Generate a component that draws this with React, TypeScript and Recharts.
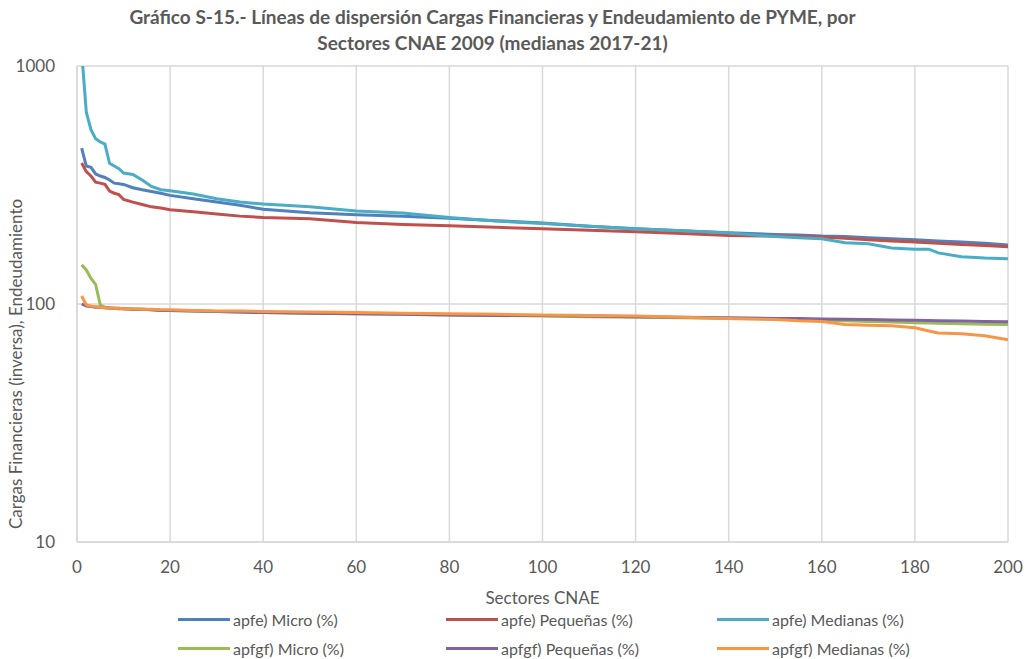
import { LineChart, Line, XAxis, YAxis, CartesianGrid, Legend } from 'recharts';

const sectors = [1, 2, 3, 4, 5, 6, 7, 8, 9, 10, 12, 14, 16, 18, 20, 25, 30, 35, 40, 50, 60, 70, 80, 90, 100, 110, 120, 130, 140, 150, 155, 160, 165, 170, 175, 180, 183, 185, 190, 195, 200];

const apfeMicro = [452, 380, 375, 352, 345, 340, 332, 322, 320, 318, 308, 302, 297, 292, 286, 277, 268, 260, 250, 242, 237, 234, 229, 224, 219, 212, 207, 203, 199, 196, 195, 193, 192, 190, 188, 186, 185, 184, 182, 180, 177];
const apfePeq = [391, 360, 345, 325, 322, 318, 298, 292, 288, 275, 268, 262, 256, 253, 249, 244, 239, 234, 231, 228, 220, 216, 213, 210, 207, 204, 201, 198, 194, 193, 192, 191, 189, 186, 184, 182, 181, 180, 178, 176, 174];
const apfeMed = [1150, 640, 540, 495, 480, 470, 390, 380, 370, 355, 350, 332, 312, 302, 299, 290, 277, 268, 263, 256, 246, 241, 231, 223, 218, 212, 207, 203, 199, 192, 190, 188, 181, 179, 172, 170, 170, 164, 158, 156, 155];
const apfgfMicro = [146, 139, 128, 121, 99, 97, 96.5, 96, 96, 95.5, 95, 95, 94.5, 94, 94, 93.5, 93, 92.5, 92, 91.5, 91, 90.5, 90, 89.5, 89, 88.5, 88, 87.5, 87, 86.5, 86, 85.5, 85, 84.5, 84, 83.5, 83.3, 83, 82.7, 82.3, 82];
const apfgfPeq = [100, 98, 97.5, 97, 97, 96.5, 96, 96, 95.5, 95.5, 95, 95, 94.5, 94, 94, 93.5, 93, 92.5, 92, 91.5, 91, 90.5, 90, 89.5, 89.5, 89, 88.5, 88, 87.5, 87, 87, 86.5, 86.2, 86, 85.7, 85.5, 85.2, 85, 84.8, 84.5, 84.2];
const apfgfMed = [108, 99, 98, 97.5, 97, 96.5, 96, 96, 96, 95.5, 95.5, 95, 95, 94.5, 94.5, 94, 93.5, 93.5, 93, 92.5, 92, 91.5, 91, 90.5, 90, 89.5, 89, 88, 87, 86, 85, 84.5, 82, 81.5, 81, 79.5, 77, 75.5, 75, 73.5, 70.7];

const xTicks = [0, 20, 40, 60, 80, 100, 120, 140, 160, 180, 200];
const yTicks = [10, 100, 1000];

const series = [
  { key: 'apfeMicro', name: 'apfe) Micro (%)', color: '#4F81BD', values: apfeMicro },
  { key: 'apfePeq', name: 'apfe) Pequeñas (%)', color: '#C0504D', values: apfePeq },
  { key: 'apfeMed', name: 'apfe) Medianas (%)', color: '#4BACC6', values: apfeMed },
  { key: 'apfgfMicro', name: 'apfgf) Micro (%)', color: '#9BBB59', values: apfgfMicro },
  { key: 'apfgfPeq', name: 'apfgf) Pequeñas (%)', color: '#8064A2', values: apfgfPeq },
  { key: 'apfgfMed', name: 'apfgf) Medianas (%)', color: '#F79646', values: apfgfMed },
];

const data = sectors.map((x, i) => {
  const row: Record<string, number> = { x };
  series.forEach((s) => { row[s.key] = s.values[i]; });
  return row;
});

const FONT = 'Lato, "DejaVu Sans", sans-serif';
const TEXT = '#595959';
const GRID = '#d9d9d9';

const legendCols = [178, 446, 717];
const legendRows = [0, 29];

function LegendBox() {
  return (
    <div style={{ position: 'relative', width: 1027, height: 54 }}>
      {series.map((s, i) => (
        <div
          key={s.key}
          style={{
            position: 'absolute',
            left: legendCols[i % 3],
            top: legendRows[Math.floor(i / 3)],
            display: 'flex',
            alignItems: 'center',
            height: 26,
            whiteSpace: 'nowrap',
          }}
        >
          <span style={{ display: 'inline-block', width: 52, height: 3, background: s.color, marginRight: 3 }} />
          <span style={{ fontSize: 16, color: TEXT, fontFamily: FONT }}>{s.name}</span>
        </div>
      ))}
    </div>
  );
}

function YTitle(props: any) {
  const vb = props.viewBox || { x: 0, y: 66, height: 476 };
  const x = 18;
  const y = vb.y + vb.height / 2 + 60;
  return (
    <text x={x} y={y} transform={`rotate(-90 ${x} ${y})`} textAnchor="middle" dominantBaseline="middle" fill={TEXT} fontSize={17} fontFamily={FONT}>
      Cargas Financieras (inversa), Endeudamiento
    </text>
  );
}

export default function App() {
  return (
    <div style={{ position: 'relative', width: 1027, height: 659, fontFamily: FONT, background: '#fff' }}>
      <style>{'body{margin:0}'}</style>
      <div style={{ position: 'absolute', left: 0, top: 4, width: 985, textAlign: 'center', fontWeight: 700, fontSize: 19, lineHeight: '26px', color: TEXT, zIndex: 2 }}>
        Gráfico S-15.- Líneas de dispersión Cargas Financieras y Endeudamiento de PYME, por
        <br />
        Sectores CNAE 2009 (medianas 2017-21)
      </div>
      <LineChart width={1027} height={659} data={data} margin={{ top: 66, right: 19, bottom: 77, left: 0 }}>
        <CartesianGrid stroke={GRID} strokeWidth={1.5} />
        <XAxis
          dataKey="x"
          type="number"
          domain={[0, 200]}
          ticks={xTicks}
          height={40}
          tickLine={false}
          tickMargin={13}
          axisLine={{ stroke: GRID, strokeWidth: 1.5 }}
          tick={{ fill: TEXT, fontSize: 17, fontFamily: FONT }}
          label={{ value: 'Sectores CNAE', position: 'bottom', offset: 10, fill: TEXT, fontSize: 17, fontFamily: FONT }}
        />
        <YAxis
          scale="log"
          domain={[10, 1000]}
          ticks={yTicks}
          allowDataOverflow
          width={77}
          tickLine={false}
          tickMargin={16}
          axisLine={{ stroke: GRID, strokeWidth: 1.5 }}
          tick={{ fill: TEXT, fontSize: 17, fontFamily: FONT }}
          label={<YTitle />}
        />
        <Legend
          verticalAlign="middle"
          align="center"
          layout="horizontal"
          wrapperStyle={{ top: 606, left: 0, width: 1027, height: 54 }}
          content={() => <LegendBox />}
        />
        {series.map((s) => (
          <Line
            key={s.key}
            type="linear"
            dataKey={s.key}
            name={s.name}
            stroke={s.color}
            strokeWidth={3}
            dot={false}
            isAnimationActive={false}
          />
        ))}
      </LineChart>
    </div>
  );
}
